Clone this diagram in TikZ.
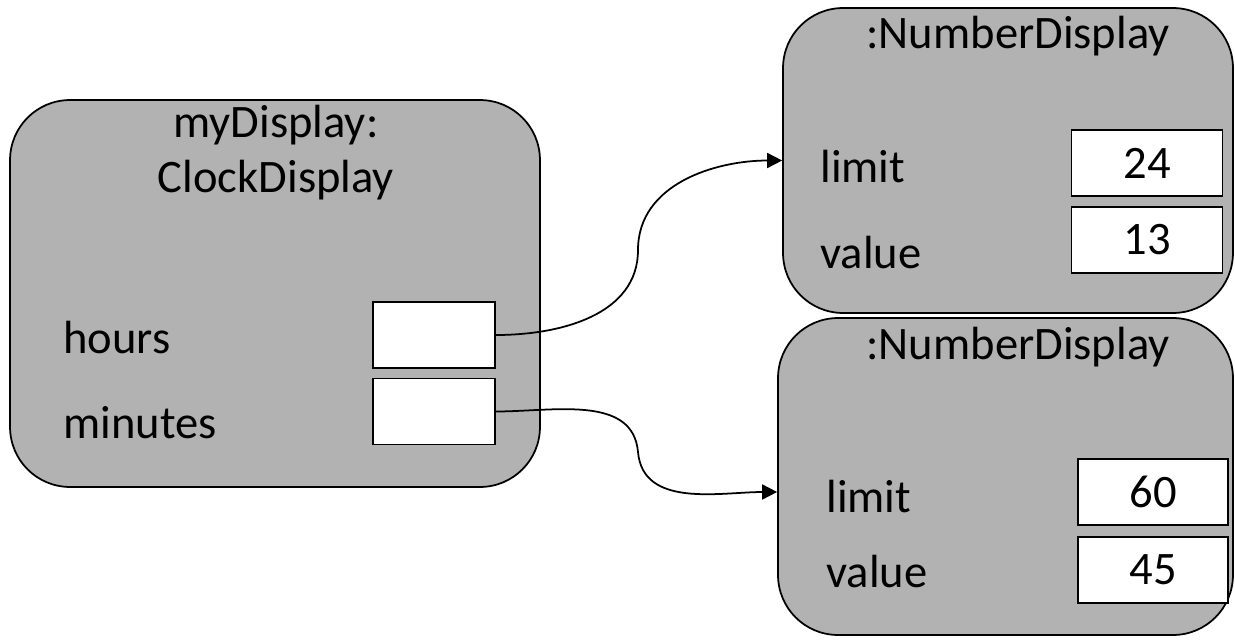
\documentclass[tikz,border=0pt]{standalone}
\usepackage{fontspec}
\setmainfont{Carlito}
\usetikzlibrary{arrows.meta,positioning}
\definecolor{objfill}{RGB}{178,178,178}

\tikzset{
  objbox/.style={draw,fill=objfill,rounded corners=1.2cm,line width=1pt,inner sep=0pt},
  slot/.style={draw,fill=white,line width=1pt,inner sep=0pt,minimum height=1.32cm},
  fieldname/.style={anchor=base west,inner sep=0pt},
  ref/.style={line width=1pt,-{Triangle[length=0.3cm,width=0.3cm]}},
}

\begin{document}
\begin{tikzpicture}[x=0.02cm,y=-0.02cm,font=\fontsize{26.5}{32}\selectfont]
  \useasboundingbox (0,0) rectangle (1235,643);

  % the three objects
  \node[objbox,minimum width=10.6cm,minimum height=7.74cm] (clock) at (275,293.5) {};
  \node[objbox,minimum width=9.0cm,minimum height=6.1cm] (hrs) at (1008,160.5) {};
  \node[objbox,minimum width=9.1cm,minimum height=6.34cm] (mins) at (1005.5,476.5) {};

  % clock display
  \node[anchor=base,inner sep=0pt] (clocktitle) at (276,137) {myDisplay:};
  \node[anchor=base,inner sep=0pt] (clocktype) at (276,192) {ClockDisplay};
  \node[fieldname] (hourslbl) at (63,353) {hours};
  \node[fieldname] (minuteslbl) at (63,438) {minutes};
  \node[slot,minimum width=2.44cm] (hoursslot) at (434,335) {};
  \node[slot,minimum width=2.44cm] (minutesslot) at (434,411.5) {};

  % number displays
  \foreach \obj/\ty in {hrs/0, mins/311}{
    \node[anchor=base,inner sep=0pt] (\obj title) at (1018,48+\ty) {:NumberDisplay};
  }
  \node[fieldname] (hrslimitlbl) at (820,182) {limit};
  \node[fieldname] (hrsvaluelbl) at (820,268) {value};
  \node[slot,minimum width=3.02cm] (hrslimit) at (1147,163) {24};
  \node[slot,minimum width=3.02cm] (hrsvalue) at (1147,240) {13};

  \node[fieldname] (minslimitlbl) at (826,512) {limit};
  \node[fieldname] (minsvaluelbl) at (826,587) {value};
  \node[slot,minimum width=3.0cm] (minslimit) at (1153,492) {60};
  \node[slot,minimum width=3.0cm] (minsvalue) at (1153,570) {45};

  % references
  \coordinate (bend1) at (638,250);
  \coordinate (bend2) at (638,452);
  \coordinate (minsin) at ([yshift=-0.31cm]mins.west);
  \draw[ref] (hoursslot.east) to[out=0,in=-90] (bend1) to[out=90,in=180] (hrs.west);
  \draw[ref] (minutesslot.east) to[out=0,in=95] (bend2) to[out=-85,in=180] (minsin);
\end{tikzpicture}
\end{document}
